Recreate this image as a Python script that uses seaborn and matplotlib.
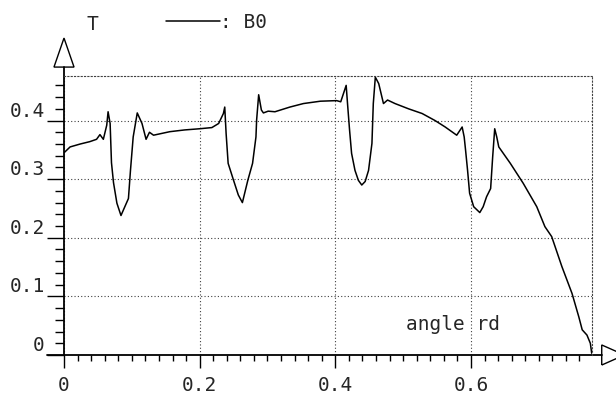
import numpy as np
import pandas as pd
import matplotlib
matplotlib.use("Agg")
import matplotlib.pyplot as plt
from matplotlib.patches import Polygon
from matplotlib.ticker import FixedLocator, FixedFormatter, MultipleLocator
import seaborn as sns

# curve B0 (angle in rd, T)
angle = [0.000, 0.009, 0.024, 0.038, 0.048, 0.053, 0.058, 0.063, 0.065, 0.068,
         0.070, 0.073, 0.078, 0.084, 0.095, 0.098, 0.102, 0.108, 0.115, 0.121,
         0.126, 0.132, 0.156, 0.178, 0.200, 0.218, 0.228, 0.235, 0.237, 0.239,
         0.242, 0.250, 0.257, 0.263, 0.271, 0.278, 0.283, 0.284, 0.287, 0.291,
         0.294, 0.301, 0.311, 0.333, 0.353, 0.378, 0.402, 0.408, 0.412, 0.416,
         0.418, 0.421, 0.424, 0.429, 0.434, 0.439, 0.444, 0.449, 0.454, 0.456,
         0.459, 0.464, 0.471, 0.477, 0.488, 0.508, 0.528, 0.547, 0.562, 0.579,
         0.587, 0.590, 0.592, 0.595, 0.598, 0.604, 0.613, 0.618, 0.623, 0.629,
         0.632, 0.635, 0.638, 0.641, 0.658, 0.677, 0.697, 0.709, 0.719, 0.734,
         0.749, 0.759, 0.764, 0.771, 0.776, 0.778]
t_b0 = [0.345, 0.355, 0.360, 0.364, 0.368, 0.376, 0.368, 0.392, 0.415, 0.395,
        0.328, 0.294, 0.259, 0.238, 0.267, 0.315, 0.372, 0.413, 0.395, 0.368,
        0.380, 0.375, 0.381, 0.384, 0.386, 0.388, 0.395, 0.412, 0.423, 0.378,
        0.327, 0.298, 0.273, 0.260, 0.298, 0.327, 0.372, 0.401, 0.444, 0.418,
        0.413, 0.416, 0.415, 0.423, 0.429, 0.433, 0.434, 0.432, 0.446, 0.460,
        0.429, 0.384, 0.344, 0.315, 0.298, 0.290, 0.296, 0.315, 0.361, 0.429,
        0.474, 0.463, 0.429, 0.435, 0.429, 0.420, 0.412, 0.400, 0.389, 0.375,
        0.389, 0.372, 0.350, 0.315, 0.276, 0.253, 0.243, 0.253, 0.270, 0.284,
        0.338, 0.386, 0.372, 0.355, 0.327, 0.293, 0.253, 0.219, 0.202, 0.151,
        0.105, 0.065, 0.043, 0.034, 0.020, 0.003]

x_ticks = [0, 0.2, 0.4, 0.6]
x_labels = ["0", "0.2", "0.4", "0.6"]
y_ticks = [0, 0.1, 0.2, 0.3, 0.4]
y_labels = ["0", "0.1", "0.2", "0.3", "0.4"]

sns.set_style("white")
plt.rcParams["font.family"] = ["DejaVu Sans Mono"]
plt.rcParams["font.size"] = 14

df = pd.DataFrame({"angle": angle, "T": t_b0})

fig = plt.figure(figsize=(6.16, 3.99), dpi=100)
ax = fig.add_axes([64 / 616, 44 / 399, 527.7 / 616, 279 / 399])

sns.lineplot(data=df, x="angle", y="T", sort=False, estimator=None,
             color="black", linewidth=1.1, label=": B0", ax=ax)

ax.set_xlim(0, 0.778)
ax.set_ylim(0, 0.476)
ax.set_xlabel("")
ax.set_ylabel("")

# ticks
ax.xaxis.set_major_locator(FixedLocator(x_ticks))
ax.xaxis.set_major_formatter(FixedFormatter(x_labels))
ax.xaxis.set_minor_locator(MultipleLocator(0.02))
ax.yaxis.set_major_locator(FixedLocator(y_ticks))
ax.yaxis.set_major_formatter(FixedFormatter(y_labels))
ax.yaxis.set_minor_locator(MultipleLocator(0.02))
ax.tick_params(axis="x", which="both", bottom=True, top=False)
ax.tick_params(axis="y", which="both", left=True, right=False)
ax.tick_params(axis="x", which="major", direction="out", length=9, width=1,
               pad=6, color="black", labelsize=14)
ax.tick_params(axis="x", which="minor", direction="out", length=4.5, width=1,
               color="black")
ax.tick_params(axis="y", which="major", direction="out", length=12.5, width=1,
               pad=1.5, color="black", labelsize=14)
ax.tick_params(axis="y", which="minor", direction="out", length=6.5, width=1,
               color="black")
for lab in ax.get_yticklabels():
    lab.set_verticalalignment("bottom")

# dotted grid and frame
ax.grid(True, which="major", linestyle=(0, (1, 2)), linewidth=0.8, color="0.25")
for side in ["top", "right"]:
    ax.spines[side].set_linestyle((0, (1, 2)))
    ax.spines[side].set_linewidth(0.8)
    ax.spines[side].set_color("0.25")
ax.spines["left"].set_visible(False)
ax.spines["bottom"].set_visible(False)

# axes with arrows
ax.plot([0, 0], [0, 1.032], transform=ax.transAxes, color="black",
        linewidth=1.3, clip_on=False)
ax.plot([-0.032, 1.019], [0, 0], transform=ax.transAxes, color="black",
        linewidth=1.3, clip_on=False)
ax.add_patch(Polygon([[-0.019, 1.032], [0.019, 1.032], [0.0, 1.136]], closed=True,
                     fill=False, edgecolor="black", linewidth=1,
                     transform=ax.transAxes, clip_on=False))
ax.add_patch(Polygon([[1.019, -0.036], [1.019, 0.036], [1.062, 0.0]], closed=True,
                     fill=False, edgecolor="black", linewidth=1,
                     transform=ax.transAxes, clip_on=False))

ax.text(0.504, 0.043, "angle rd", ha="left", va="baseline", fontsize=14)
fig.text(92 / 616, 1 - 30 / 399, "T", ha="center", va="baseline", fontsize=14)

ax.legend(loc="center left", bbox_to_anchor=(166 / 616, 1 - 22 / 399),
          bbox_transform=fig.transFigure, frameon=False, borderpad=0,
          borderaxespad=0, handlelength=2.8, handletextpad=0, fontsize=14)

fig.savefig("out.png", dpi=100)
